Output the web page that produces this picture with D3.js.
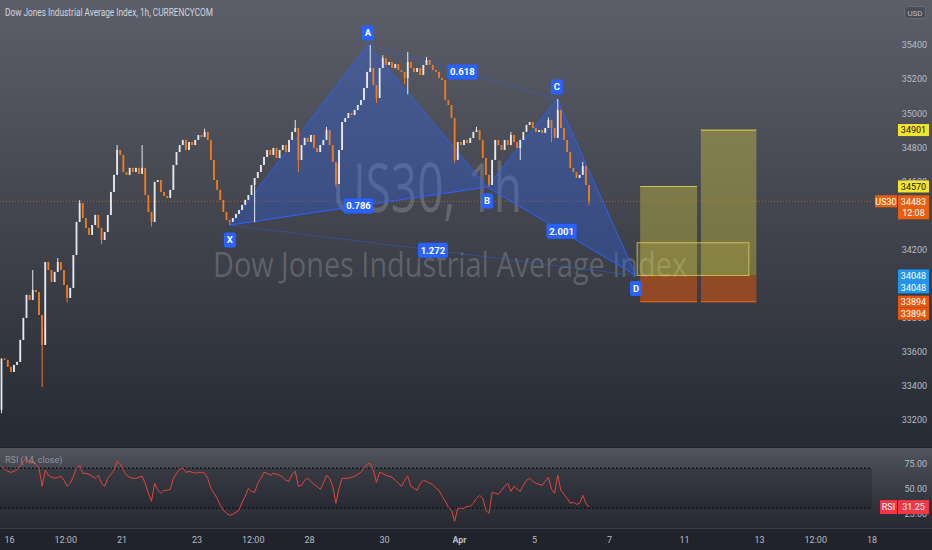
<!DOCTYPE html>
<html><head><meta charset="utf-8">
<script src="https://cdnjs.cloudflare.com/ajax/libs/d3/7.8.5/d3.min.js"></script>
<style>html,body{margin:0;padding:0;background:#1e222d;overflow:hidden}svg{display:block}</style>
</head><body><svg id="c" width="932" height="550"></svg>
<script>
// ---------- DATA ----------
const title = "Dow Jones Industrial Average Index, 1h, CURRENCYCOM";
const symbol = "US30";
const watermark1 = "US30, 1h";
const watermark2 = "Dow Jones Industrial Average Index";
const firstDay = -0.2;          // trading-day index of the first candle (16 Mar = 0)
const candlesPerDay = 12;
const firstOpen = 33260;
const closes = [
33560,33553,33512,33482,33523,33541,33670,33799,33934,33904,
33963,33951,33816,33640,34127,34080,34010,34069,34127,34080,
33992,33916,33975,34168,34362,34473,34385,34327,34286,34344,
34403,34327,34256,34303,34403,34538,34638,34784,34755,34655,
34638,34679,34655,34679,34644,34679,34520,34421,34362,34597,
34608,34538,34514,34503,34550,34696,34772,34813,34843,34784,
34831,34813,34843,34872,34860,34890,34843,34726,34608,34550,
34491,34421,34374,34362,34385,34409,34432,34462,34491,34520,
34579,34620,34655,34696,34743,34784,34755,34796,34737,34784,
34813,34772,34843,34890,34913,34726,34813,34855,34831,34872,
34796,34772,34813,34843,34901,34813,34714,34585,34784,34948,
34972,35001,34989,35019,35048,35077,35148,35242,35265,35165,
35089,35265,35324,35283,35300,35265,35288,35253,35242,35206,
35300,35265,35242,35265,35224,35283,35312,35283,35253,35242,
35206,35195,35077,35048,34972,34726,34831,34813,34843,34825,
34855,34890,34901,34843,34737,34638,34579,34726,34843,34813,
34784,34843,34813,34872,34831,34796,34843,34890,34931,34948,
34913,34890,34901,34884,34913,34960,34913,34855,35019,34913,
34843,34772,34679,34655,34620,34638,34690,34579,34483];
const wickHigh = {10:34080,18:34150,25:34490,37:34813,45:34813,65:34910,94:34960,104:34920,
  118:35400,122:35340,130:35360,136:35330,152:34920,163:34890,175:34975,178:35083,186:34715};
const wickLow = {0:33240,13:33394,21:33890,32:34230,48:34335,73:34344,81:34360,95:34655,107:34570,
  120:35060,129:35170,130:35110,145:34710,156:34567,166:34726,176:34830,188:34460};
const rsi = [
72,69,67,66,67,69,72,77,80,75, 76,74,70,52,68,63,61,60,61,62,
58,52,55,62,70,73,65,65,64,62, 60,63,55,52,60,64,68,77,74,68,
63,61,60,60,61,62,55,45,37,55, 48,45,48,48,49,60,65,69,70,66,
67,66,65,66,66,65,60,50,45,40, 33,28,25,23,24,26,28,36,42,50,
47,46,55,60,66,65,63,65,64,63, 61,58,57,64,67,52,53,58,60,57,
54,52,49,55,63,60,52,35,50,60, 60,60,61,62,64,66,70,74,75,68,
56,66,65,63,62,61,58,55,52,58, 62,52,50,48,55,58,57,55,54,50,
48,42,37,31,28,17,30,30,30,32, 32,35,40,43,40,28,25,46,45,44,
48,52,55,47,52,49,47,53,58,60, 57,55,54,53,57,61,49,45,63,48,
44,40,35,36,34,35,43,35,31.25];
const rsiLevels = [70, 30];
const lastPrice = 34483;
const countdown = "12:08";

// harmonic pattern
const patLabels = ["X","A","B","C","D"];
const patDays   = [5.89, 9.57, 12.75, 14.61, 16.72];
const patPrices = [34344, 35400, 34567, 35083, 34048];
const ratioLabels = ["0.786","0.618","1.272","2.001"];
const ratioPairs  = [[0,2],[1,3],[0,4],[2,4]];

// long positions
const entryPrice = 34048;
const stopPrice = 33894;
const targetPrices = [34570, 34901];
const positionDays = [[16.83, 18.35], [18.45, 19.93]];
const zoneDays = [16.75, 19.73];
const zonePrices = [34048, 34240];

// axes
const priceTicks = [35400,35200,35000,34800,34600,34400,34200,34000,33800,33600,33400,33200];
const rsiTicks = [75, 50, 25];
const timeTickDays = [0, 1.5, 3, 5, 6.5, 8, 10, 12, 14, 16, 18, 20, 21.5, 23];
const timeTickLabels = ["16","12:00","21","23","12:00","28","30","Apr","5","7","11","13","12:00","18"];

// ---------- LAYOUT ----------
const W = 932, H = 550, R = 872;
const mainBot = 447, rsiTop = 448, rsiBot = 528;
const FONT = "Roboto, 'Noto Sans', sans-serif";

const x = d3.scaleLinear().domain([0, 23]).range([9, 871.5]);
const y = d3.scaleLinear().domain([33200, 35400]).range([420, 45]);
const ry = d3.scaleLinear().domain([30, 70]).range([508.3, 468.3]);

const svg = d3.select("#c");
const defs = svg.append("defs");
function vgrad(id, stops) {
  const g = defs.append("linearGradient").attr("id", id).attr("x1",0).attr("y1",0).attr("x2",0).attr("y2",1);
  stops.forEach(s => g.append("stop").attr("offset", s[0]).attr("stop-color", s[1]));
}
vgrad("gMain", [[0,"#5c5f6a"],[0.45,"#44474f"],[1,"#262a34"]]);
vgrad("gRsi", [[0,"#52555f"],[0.25,"#44474f"],[1,"#262932"]]);

svg.append("rect").attr("x",0).attr("y",0).attr("width",W).attr("height",mainBot).attr("fill","url(#gMain)");
svg.append("rect").attr("x",0).attr("y",mainBot).attr("width",W).attr("height",rsiTop-mainBot).attr("fill","#1f222b");
svg.append("rect").attr("x",0).attr("y",rsiTop).attr("width",W).attr("height",rsiBot-rsiTop).attr("fill","url(#gRsi)");
svg.append("rect").attr("x",0).attr("y",rsiBot).attr("width",W).attr("height",H-rsiBot).attr("fill","#20232b");
svg.append("line").attr("x1",0).attr("x2",W).attr("y1",rsiBot+0.5).attr("y2",rsiBot+0.5).attr("stroke","#3a3d46");

// RSI band between levels
svg.append("rect").attr("x",0).attr("width",R).attr("y",ry(rsiLevels[0])).attr("height",ry(rsiLevels[1])-ry(rsiLevels[0]))
  .attr("fill","rgba(15,17,25,0.22)");

// ---------- WATERMARK ----------
svg.append("text").text(watermark1).attr("x",427).attr("y",212).attr("text-anchor","middle")
  .attr("font-family","'Open Sans', sans-serif").attr("font-size",68).attr("fill","rgba(185,188,198,0.28)")
  .attr("textLength",190).attr("lengthAdjust","spacingAndGlyphs");
svg.append("text").text(watermark2).attr("x",450).attr("y",277).attr("text-anchor","middle")
  .attr("font-family","'Open Sans', sans-serif").attr("font-size",34).attr("fill","rgba(185,188,198,0.28)")
  .attr("textLength",474).attr("lengthAdjust","spacingAndGlyphs");

// ---------- TITLE ----------
svg.append("text").text(title).attr("x",5).attr("y",16).attr("font-family",FONT).attr("font-size",10)
  .attr("fill","#d1d4dc").attr("textLength",208).attr("lengthAdjust","spacingAndGlyphs");

// ---------- POSITION BOXES ----------
const pos = svg.append("g");
positionDays.forEach((d, k) => {
  const x0 = x(d[0]), x1 = x(d[1]);
  pos.append("rect").attr("x",x0).attr("width",x1-x0).attr("y",y(targetPrices[k])).attr("height",y(entryPrice)-y(targetPrices[k]))
    .attr("fill","rgba(255,235,59,0.30)");
  pos.append("line").attr("x1",x0).attr("x2",x1).attr("y1",y(targetPrices[k])).attr("y2",y(targetPrices[k]))
    .attr("stroke","rgba(230,220,70,0.8)").attr("stroke-width",1.2);
  pos.append("rect").attr("x",x0).attr("width",x1-x0).attr("y",y(entryPrice)).attr("height",y(stopPrice)-y(entryPrice))
    .attr("fill","rgba(255,88,0,0.45)");
  pos.append("line").attr("x1",x0).attr("x2",x1).attr("y1",y(stopPrice)).attr("y2",y(stopPrice))
    .attr("stroke","rgba(245,100,20,0.85)").attr("stroke-width",1.2);
});
pos.append("rect").attr("x",x(zoneDays[0])).attr("width",x(zoneDays[1])-x(zoneDays[0]))
  .attr("y",y(zonePrices[1])).attr("height",y(zonePrices[0])-y(zonePrices[1]))
  .attr("fill","rgba(255,235,59,0.12)").attr("stroke","rgba(240,230,90,0.65)").attr("stroke-width",1);

// ---------- LAST PRICE LINE ----------
svg.append("line").attr("x1",0).attr("x2",R).attr("y1",y(lastPrice)).attr("y2",y(lastPrice))
  .attr("stroke","rgba(245,124,0,0.55)").attr("stroke-width",1).attr("stroke-dasharray","1 2");

// ---------- HARMONIC PATTERN ----------
const pts = patDays.map((d,i) => [x(d), y(patPrices[i])]);
const pat = svg.append("g");
[[0,1,2],[2,3,4]].forEach(tri => {
  pat.append("polygon").attr("points", tri.map(i => pts[i].join(",")).join(" "))
    .attr("fill","rgba(41,98,255,0.30)").attr("stroke","rgba(41,98,255,0.9)").attr("stroke-width",1);
});
ratioPairs.forEach(p => {
  pat.append("line").attr("x1",pts[p[0]][0]).attr("y1",pts[p[0]][1]).attr("x2",pts[p[1]][0]).attr("y2",pts[p[1]][1])
    .attr("stroke","rgba(41,98,255,0.38)").attr("stroke-width",1);
});

// ---------- CANDLES ----------
const candles = closes.map((c, i) => {
  const o = i === 0 ? firstOpen : closes[i-1];
  const hi = Math.max(o, c, wickHigh[i] ?? -Infinity);
  const lo = Math.min(o, c, wickLow[i] ?? Infinity);
  return {d: firstDay + i / candlesPerDay, o, c, hi, lo};
});
const cg = svg.append("g");
candles.forEach(k => {
  const cx = x(k.d);
  const col = k.c >= k.o ? "#e6e8ee" : "#f07a1c";
  cg.append("line").attr("x1",cx).attr("x2",cx).attr("y1",y(k.hi)).attr("y2",y(k.lo)).attr("stroke",col).attr("stroke-width",1);
  const top = y(Math.max(k.o,k.c)), bot = y(Math.min(k.o,k.c));
  cg.append("rect").attr("x",cx-0.9).attr("width",1.8).attr("y",top).attr("height",Math.max(1,bot-top)).attr("fill",col);
});

// pattern labels on top
function tag(g, cx, cy, text, w, h, fill, tcol, fs, bold) {
  g.append("rect").attr("x",cx-w/2).attr("y",cy-h/2).attr("width",w).attr("height",h).attr("rx",2).attr("fill",fill);
  g.append("text").text(text).attr("x",cx).attr("y",cy+fs*0.36).attr("text-anchor","middle")
    .attr("font-family",FONT).attr("font-size",fs).attr("font-weight",bold?"bold":"normal").attr("fill",tcol);
}
const labOff = [15, -12, 14, -12, 13];
const lg = svg.append("g");
pts.forEach((p,i) => tag(lg, p[0], p[1]+labOff[i], patLabels[i], 12, 15, "#2962ff", "#fff", 9.5, true));
ratioPairs.forEach((pr,i) => {
  const a = pts[pr[0]], b = pts[pr[1]];
  tag(lg, (a[0]+b[0])/2, (a[1]+b[1])/2, ratioLabels[i], 30, 15, "#2962ff", "#fff", 9.5, true);
});

// ---------- RSI ----------
rsiLevels.forEach(l => {
  svg.append("line").attr("x1",0).attr("x2",R).attr("y1",ry(l)).attr("y2",ry(l))
    .attr("stroke","#0d0f14").attr("stroke-width",1.6).attr("stroke-dasharray","1.6 2.4");
});
svg.append("path").datum(rsi).attr("fill","none").attr("stroke","#e8433a").attr("stroke-width",1)
  .attr("d", d3.line().x((v,i) => x(firstDay + i / candlesPerDay)).y(v => ry(v)));
svg.append("text").text("RSI (14, close)").attr("x",5).attr("y",463).attr("font-family",FONT).attr("font-size",9)
  .attr("fill","rgba(205,208,215,0.55)");

// ---------- AXES ----------
const pa = svg.append("g").attr("transform",`translate(${R},0)`)
  .call(d3.axisRight(y).tickValues(priceTicks).tickFormat(d3.format("d")).tickSize(0));
pa.select(".domain").remove();
pa.selectAll("text").attr("x",55).attr("text-anchor","end").attr("font-family",FONT).attr("font-size",9).attr("fill","#b8bbc4");

const ra = svg.append("g").attr("transform",`translate(${R},0)`)
  .call(d3.axisRight(ry).tickValues(rsiTicks).tickFormat(d3.format(".2f")).tickSize(0));
ra.select(".domain").remove();
ra.selectAll("text").attr("x",55).attr("text-anchor","end").attr("font-family",FONT).attr("font-size",9).attr("fill","#b8bbc4");

const ta = svg.append("g").attr("transform",`translate(0,${rsiBot})`)
  .call(d3.axisBottom(x).tickValues(timeTickDays).tickFormat((d,i) => timeTickLabels[i]).tickSize(0).tickPadding(9));
ta.select(".domain").remove();
ta.selectAll("text").attr("font-family",FONT).attr("font-size",9).attr("fill","#b8bbc4")
  .attr("font-weight",(d,i) => timeTickLabels[i]==="Apr" ? "bold" : "normal");

// USD box
svg.append("rect").attr("x",904.5).attr("y",6.5).attr("width",21).attr("height",12).attr("rx",3)
  .attr("fill","#4a4d57").attr("stroke","#6a6d77");
svg.append("text").text("USD").attr("x",915).attr("y",15.5).attr("text-anchor","middle").attr("font-family",FONT)
  .attr("font-size",8).attr("fill","#b8bbc4");

// price tags
const ag = svg.append("g");
function axTag(x0, w, cy, h, fill, text, tcol) {
  ag.append("rect").attr("x",x0).attr("y",cy-h/2).attr("width",w).attr("height",h).attr("fill",fill);
  ag.append("text").text(text).attr("x",x0+w/2).attr("y",cy+3.2).attr("text-anchor","middle")
    .attr("font-family",FONT).attr("font-size",9).attr("fill",tcol);
}
targetPrices.forEach(v => axTag(898, 31, y(v), 12, "#f7e52c", v, "#131722"));
// last price: symbol + value + countdown
ag.append("rect").attr("x",875).attr("y",y(lastPrice)-6).attr("width",22).attr("height",12).attr("fill","#e8600e");
ag.append("text").text(symbol).attr("x",886).attr("y",y(lastPrice)+3.2).attr("text-anchor","middle")
  .attr("font-family",FONT).attr("font-size",9).attr("fill","#fff");
ag.append("rect").attr("x",898).attr("y",y(lastPrice)-6).attr("width",31).attr("height",24).attr("fill","#e8600e");
ag.append("text").text(lastPrice).attr("x",913.5).attr("y",y(lastPrice)+3.2).attr("text-anchor","middle")
  .attr("font-family",FONT).attr("font-size",9).attr("fill","#fff");
ag.append("text").text(countdown).attr("x",913.5).attr("y",y(lastPrice)+15).attr("text-anchor","middle")
  .attr("font-family",FONT).attr("font-size",9).attr("fill","#fff");
[0,1].forEach(k => axTag(898, 31, y(entryPrice)+12*k, 12, "#2196f3", entryPrice, "#fff"));
[0,1].forEach(k => axTag(898, 31, y(stopPrice)+12*k, 12, "#e8560e", stopPrice, "#fff"));
// RSI tag
const lastRsi = rsi[rsi.length-1];
ag.append("rect").attr("x",880).attr("y",ry(lastRsi)-7).attr("width",17).attr("height",14).attr("fill","#f23645");
ag.append("text").text("RSI").attr("x",888.5).attr("y",ry(lastRsi)+3.2).attr("text-anchor","middle")
  .attr("font-family",FONT).attr("font-size",9).attr("fill","#fff");
ag.append("rect").attr("x",898).attr("y",ry(lastRsi)-7).attr("width",31).attr("height",14).attr("fill","#f23645");
ag.append("text").text(d3.format(".2f")(lastRsi)).attr("x",913.5).attr("y",ry(lastRsi)+3.2).attr("text-anchor","middle")
  .attr("font-family",FONT).attr("font-size",9).attr("fill","#fff");
</script></body></html>
